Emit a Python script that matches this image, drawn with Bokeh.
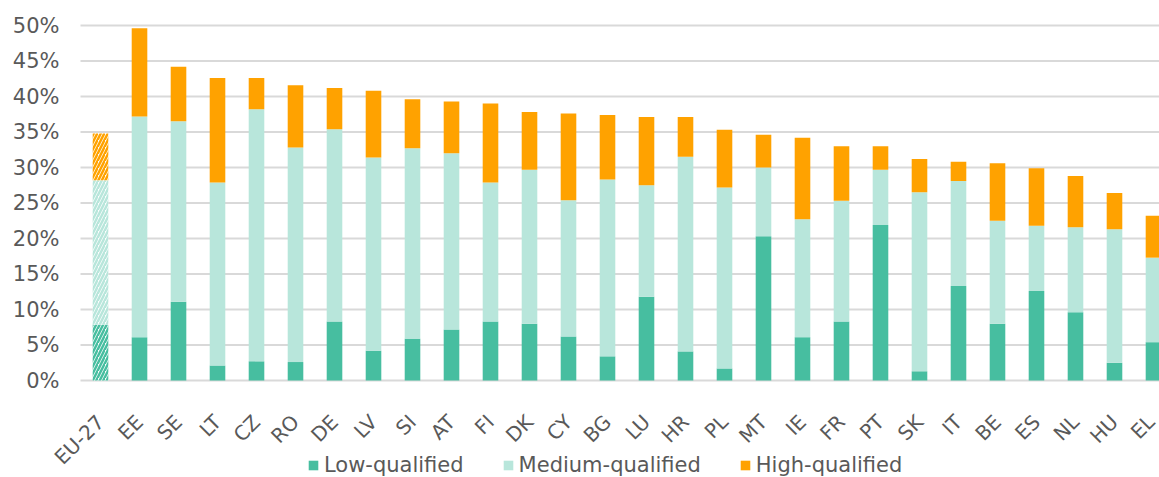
import math
from bokeh.plotting import figure
from bokeh.models import (ColumnDataSource, Range1d, FixedTicker, PrintfTickFormatter,
                          Legend, LegendItem)
from bokeh.embed import file_html
from bokeh.resources import INLINE

categories = ["EU-27", "EE", "SE", "LT", "CZ", "RO", "DE", "LV", "SI", "AT", "FI", "DK", "CY",
              "BG", "LU", "HR", "PL", "MT", "IE", "FR", "PT", "SK", "IT", "BE", "ES", "NL", "HU", "EL"]
low_qualified = [7.9, 6.1, 11.1, 2.1, 2.7, 2.6, 8.3, 4.2, 5.9, 7.2, 8.3, 8.0, 6.2,
                 3.4, 11.8, 4.1, 1.7, 20.3, 6.1, 8.3, 21.9, 1.3, 13.3, 8.0, 12.6, 9.6, 2.5, 5.4]
medium_qualified = [20.3, 31.1, 25.4, 25.8, 35.5, 30.2, 27.1, 27.2, 26.8, 24.8, 19.6, 21.7, 19.2,
                    24.9, 15.7, 27.4, 25.5, 9.7, 16.6, 17.0, 7.8, 25.2, 14.8, 14.5, 9.2, 12.0, 18.8, 11.9]
high_qualified = [6.6, 12.4, 7.7, 14.7, 4.4, 8.8, 5.8, 9.4, 6.9, 7.3, 11.1, 8.1, 12.2,
                  9.1, 9.6, 5.6, 8.1, 4.6, 11.5, 7.7, 3.3, 4.7, 2.7, 8.1, 8.1, 7.2, 5.1, 5.9]
series_names = ["Low-qualified", "Medium-qualified", "High-qualified"]
y_ticks = [0, 5, 10, 15, 20, 25, 30, 35, 40, 45, 50]

colors = ["#47BEA0", "#B8E6DB", "#FFA200"]
text_color = "#595959"
grid_color = "#D9D9D9"
FONT = "DejaVu Sans"

keys = ["low", "medium", "high"]
positions = list(range(len(categories)))


def make_source(idx):
    return ColumnDataSource(dict(
        x=[positions[i] for i in idx],
        low=[low_qualified[i] for i in idx],
        medium=[medium_qualified[i] for i in idx],
        high=[high_qualified[i] for i in idx],
    ))


eu_src = make_source([0])
ctry_src = make_source(list(range(1, len(categories))))

# The frame covers the whole canvas; both axes are pinned inside it.
px_per_cat = 39.0
px_per_pct = 355 / 50
plot_x0 = -0.513                      # left edge of the plotting area (y-axis position)
x_lo = plot_x0 - 80 / px_per_cat
x_hi = 27.154
y_lo = -97 / px_per_pct
y_hi = 50 + 25 / px_per_pct

p = figure(width=1159, height=477, frame_width=1159, frame_height=477,
           output_backend="svg", toolbar_location=None,
           x_range=Range1d(x_lo, x_hi), y_range=Range1d(y_lo, y_hi),
           min_border_left=0, min_border_right=0, min_border_top=0, min_border_bottom=0)
p.outline_line_color = None
p.background_fill_color = "white"
p.border_fill_color = "white"
p.xgrid.grid_line_color = None
p.ygrid.grid_line_color = None

# horizontal gridlines spanning the plotting area only
p.segment(x0=[plot_x0] * len(y_ticks), x1=[x_hi] * len(y_ticks), y0=y_ticks, y1=y_ticks,
          line_color=grid_color, line_width=2)

bar_w = 0.4
solid = p.vbar_stack(keys, x="x", width=bar_w, source=ctry_src, color=colors, line_width=0)
p.vbar_stack(keys, x="x", width=bar_w, source=eu_src, fill_color="white", line_width=0,
             hatch_pattern="/", hatch_color=colors, hatch_weight=2.5, hatch_scale=7)

# y axis
p.yaxis.fixed_location = plot_x0
p.yaxis.ticker = FixedTicker(ticks=y_ticks)
p.yaxis.formatter = PrintfTickFormatter(format="%d%%")
p.yaxis.axis_line_color = None
p.yaxis.major_tick_line_color = None
p.yaxis.minor_tick_line_color = None
p.yaxis.major_tick_out = 0
p.yaxis.major_label_standoff = 21
p.yaxis.major_label_text_font = FONT
p.yaxis.major_label_text_font_size = "21px"
p.yaxis.major_label_text_color = text_color

# x axis
p.xaxis.fixed_location = 0
p.xaxis.ticker = FixedTicker(ticks=positions)
p.xaxis.major_label_overrides = {pos: cat for pos, cat in zip(positions, categories)}
p.xaxis.axis_line_color = None
p.xaxis.major_tick_line_color = None
p.xaxis.minor_tick_line_color = None
p.xaxis.major_tick_out = 0
p.xaxis.major_label_orientation = math.pi / 4
p.xaxis.major_label_standoff = 38
p.xaxis.major_label_text_font = FONT
p.xaxis.major_label_text_font_size = "20px"
p.xaxis.major_label_text_color = text_color

legend = Legend(items=[LegendItem(label=n, renderers=[r]) for n, r in zip(series_names, solid)],
                orientation="horizontal", location=(307, 0),
                label_text_font=FONT, label_text_font_size="21px", label_text_color=text_color,
                glyph_width=12, glyph_height=12, label_standoff=5, spacing=38,
                padding=0, margin=0, border_line_color=None, background_fill_alpha=0)
p.add_layout(legend, "center")

open("out.html", "w").write(file_html(p, INLINE))
